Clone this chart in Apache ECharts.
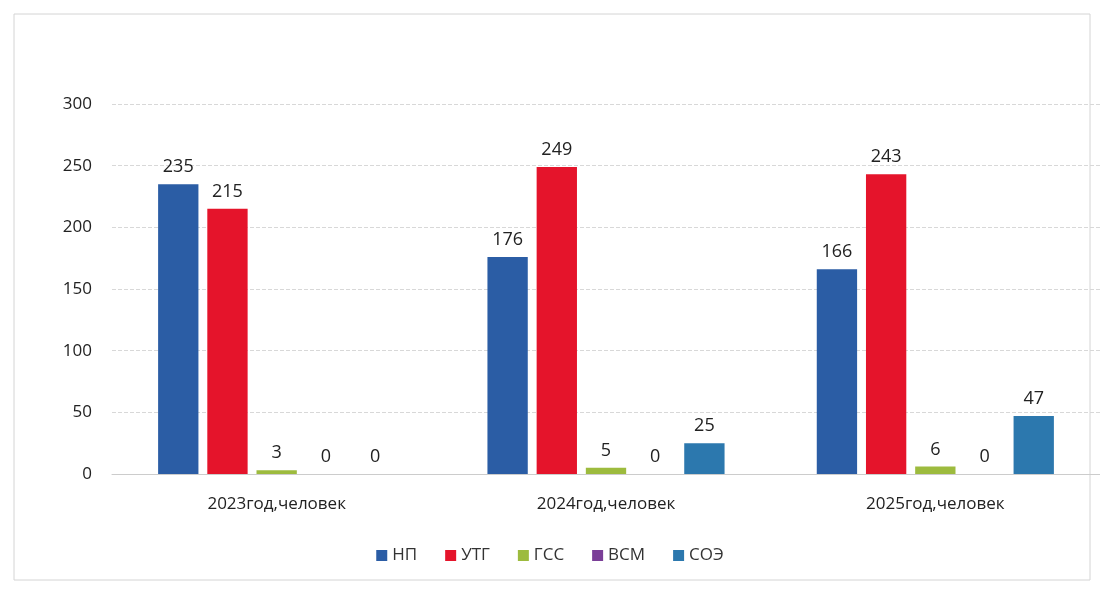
<!DOCTYPE html>
<html>
<head>
<meta charset="utf-8">
<script src="https://cdn.jsdelivr.net/npm/echarts@6/dist/echarts.min.js"></script>
<style>html,body{margin:0;padding:0;background:#fff;}#c{width:1100px;height:591px;}</style>
</head>
<body>
<div id="c"></div>
<script>
const categories = ['2023год,человек', '2024год,человек', '2025год,человек'];
const seriesNames = ['НП', 'УТГ', 'ГСС', 'ВСМ', 'СОЭ'];
const np = [235, 176, 166];
const utg = [215, 249, 243];
const gss = [3, 5, 6];
const vsm = [0, 0, 0];
const soe = [0, 25, 47];
const yTicks = [0, 50, 100, 150, 200, 250, 300];

const colors = ['#2B5DA5', '#E5142B', '#9DBB3E', '#7A3E97', '#2C78AE'];
const values = [np, utg, gss, vsm, soe];

const chart = echarts.init(document.getElementById('c'));
chart.setOption({
  animation: false,
  color: colors,
  graphic: [{
    type: 'rect', shape: {x: 14, y: 14, width: 1076, height: 566},
    style: {fill: 'none', stroke: '#d4d4d4', lineWidth: 1}
  }],
  grid: {left: 112, right: 0, top: 104, bottom: 117},
  legend: {
    bottom: 22, left: 'center', itemWidth: 11, itemHeight: 11, itemGap: 28,
    textStyle: {fontSize: 17, color: '#333', fontFamily: 'Open Sans'},
    icon: 'rect'
  },
  xAxis: {
    type: 'category', data: categories,
    axisLine: {lineStyle: {color: '#cccccc'}},
    axisTick: {show: false},
    axisLabel: {fontSize: 17, color: '#222', margin: 22, fontFamily: 'Open Sans'}
  },
  yAxis: {
    type: 'value', min: yTicks[0], max: yTicks[yTicks.length - 1], interval: 50,
    axisLine: {show: false}, axisTick: {show: false},
    splitLine: {lineStyle: {color: '#d8d8d8', type: 'dashed'}},
    axisLabel: {fontSize: 17, color: '#222', margin: 20, fontFamily: 'Open Sans'}
  },
  series: seriesNames.map((n, i) => ({
    name: n, type: 'bar', data: values[i],
    barGap: '22%', barCategoryGap: '28%',
    label: {show: true, position: 'top', fontSize: 18, color: '#222', distance: 8, fontFamily: 'Open Sans'}
  }))
});
</script>
</body>
</html>
